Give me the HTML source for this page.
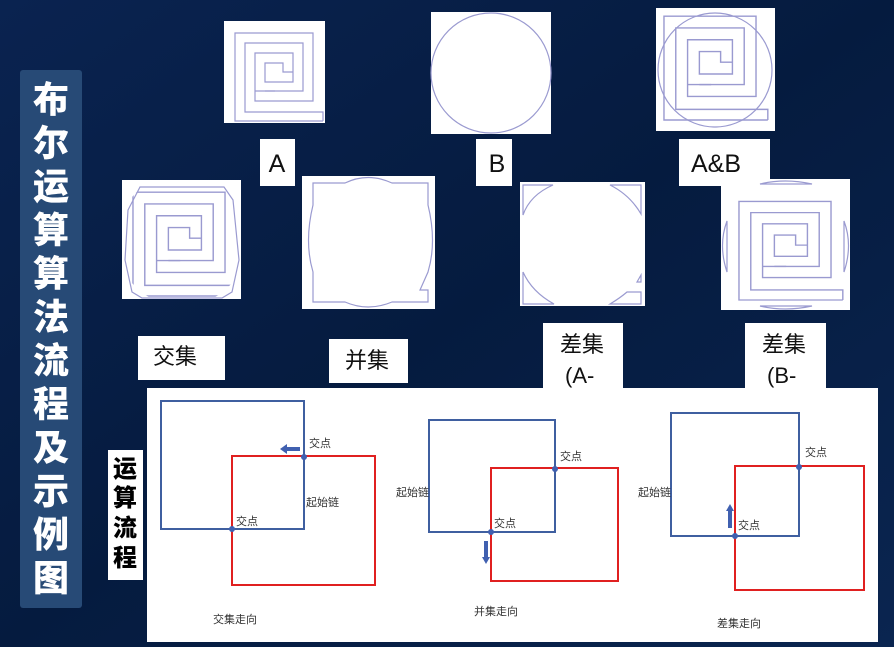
<!DOCTYPE html>
<html><head><meta charset="utf-8"><style>
html,body{margin:0;padding:0;width:894px;height:647px;overflow:hidden;background:#061c40;}
svg{display:block}
text{font-family:"Liberation Sans","Noto Sans CJK SC",sans-serif;}
</style></head><body>
<svg width="894" height="647" viewBox="0 0 894 647" xmlns="http://www.w3.org/2000/svg">
<defs>
<linearGradient id="bg" x1="0" y1="0" x2="1" y2="1">
<stop offset="0" stop-color="#0a2350"/><stop offset="0.5" stop-color="#051b3f"/><stop offset="1" stop-color="#0a2550"/>
</linearGradient>
<g id="sp" fill="none" stroke="#9a9ad0" stroke-width="1.2">
<polyline points="99,100 11,100 11,12 89,12 89,80 31,80 31,32 69,32 69,61 41,61 41,42 59,42 59,51 69,51"/>
<polyline points="99,100 99,91 21,91 21,22 79,22 79,70 31,70"/>
<polyline points="41,70 51,70"/>
</g>
<clipPath id="cc"><circle cx="60" cy="60" r="66"/></clipPath>
</defs>
<rect width="894" height="647" fill="url(#bg)"/>

<!-- title bar -->
<rect x="20" y="70" width="62" height="538" rx="3" fill="#274a76"/>
<g fill="#fff" font-weight="900" font-size="36" text-anchor="middle">
<text x="51" y="112">布</text><text x="51" y="155.5">尔</text><text x="51" y="199">运</text><text x="51" y="242.5">算</text><text x="51" y="286">算</text><text x="51" y="329.5">法</text><text x="51" y="373">流</text><text x="51" y="416.5">程</text><text x="51" y="460">及</text><text x="51" y="503.5">示</text><text x="51" y="547">例</text><text x="51" y="590.5">图</text>
</g>

<!-- A -->
<rect x="224" y="21" width="101" height="102" fill="#fff"/>
<use href="#sp" transform="translate(224,21)"/>
<!-- B -->
<rect x="431" y="12" width="120" height="122" fill="#fff"/>
<circle cx="491" cy="73" r="60" fill="none" stroke="#9a9ad0" stroke-width="1.2"/>
<!-- A&B -->
<rect x="656" y="8" width="119" height="123" fill="#fff"/>
<use href="#sp" transform="translate(651,2) scale(1.18,1.18)"/>
<circle cx="715" cy="70" r="57" fill="none" stroke="#9a9ad0" stroke-width="1.2"/>

<!-- labels row1 -->
<rect x="260" y="139" width="35" height="47" fill="#fff"/><text x="277" y="172" font-size="25" text-anchor="middle" fill="#111">A</text>
<rect x="476" y="139" width="36" height="47" fill="#fff"/><text x="497" y="172" font-size="25" text-anchor="middle" fill="#111">B</text>
<rect x="679" y="139" width="91" height="47" fill="#fff"/><text x="716" y="172" font-size="25" text-anchor="middle" fill="#111">A&amp;B</text>

<!-- 交集 image -->
<rect x="122" y="180" width="119" height="119" fill="#fff"/>
<g transform="translate(122,180)">
<g clip-path="url(#cc)"><use href="#sp" transform="translate(-2,-2) scale(1.18,1.18)"/></g>
<path d="M18 7 L102 7 L111 20 L117 80 L110 112 L100 118 L20 118 L10 112 L3 80 L6 30 Z" fill="none" stroke="#9a9ad0" stroke-width="1.2"/>
</g>
<!-- 并集 image -->
<rect x="302" y="176" width="133" height="133" fill="#fff"/>
<path d="M313 183 L345 183 Q368 172 392 183 L428 183 L428 205 Q437 242 428 272 L420 290 L428 290 L428 302 L392 302 Q368 312 345 302 L313 302 L313 272 Q304 242 313 205 Z" fill="none" stroke="#9a9ad0" stroke-width="1.2"/>
<!-- A-B image -->
<rect x="520" y="182" width="125" height="124" fill="#fff"/>
<g fill="none" stroke="#9a9ad0" stroke-width="1.2">
<path d="M523 185 L523 215 Q530 195 553 185 Z"/>
<path d="M610 185 L641 185 L641 214 Q630 195 610 185 Z"/>
<path d="M523 272 L523 304 L554 304 Q532 292 523 272 Z"/>
<path d="M610 304 L641 304 L641 292 L627 292 Q620 298 610 304 Z"/>
<path d="M637 282 L641 275 L641 282 Z"/>
</g>
<!-- B-A image -->
<rect x="721" y="179" width="129" height="131" fill="#fff"/>
<use href="#sp" transform="translate(726,188) scale(1.18,1.12)"/>
<g fill="none" stroke="#9a9ad0" stroke-width="1.2">
<path d="M760 184 Q785 178 812 184 Z"/><path d="M760 306 Q785 312 812 306 Z"/>
<path d="M727 221 Q718 245 727 272 Z"/><path d="M844 221 Q853 245 844 272 Z"/>
</g>

<!-- labels row2 -->
<g fill="#111" font-size="22">
<rect x="138" y="336" width="87" height="44" fill="#fff"/><text x="153" y="364">交集</text>
<rect x="329" y="339" width="79" height="44" fill="#fff"/><text x="345" y="368">并集</text>
<rect x="543" y="323" width="80" height="66" fill="#fff"/><text x="560" y="352">差集</text><text x="565" y="383">(A-</text>
<rect x="745" y="323" width="81" height="66" fill="#fff"/><text x="762" y="352">差集</text><text x="767" y="383">(B-</text>
</g>

<!-- 运算流程 -->
<rect x="108" y="450" width="35" height="130" fill="#fff"/>
<g font-weight="900" font-size="24" fill="#000" text-anchor="middle">
<text x="125" y="477">运</text><text x="125" y="506">算</text><text x="125" y="536">流</text><text x="125" y="566">程</text>
</g>

<!-- bottom panel -->
<rect x="147" y="388" width="731" height="254" fill="#fff"/>
<g fill="none" stroke-width="2">
<rect x="161" y="401" width="143" height="128" stroke="#3f5fa0"/>
<rect x="232" y="456" width="143" height="129" stroke="#e02020"/>
<rect x="429" y="420" width="126" height="112" stroke="#3f5fa0"/>
<rect x="491" y="468" width="127" height="113" stroke="#e02020"/>
<rect x="671" y="413" width="128" height="123" stroke="#3f5fa0"/>
<rect x="735" y="466" width="129" height="124" stroke="#e02020"/>
</g>
<g fill="#4060b0">
<circle cx="304" cy="457" r="3"/><circle cx="232" cy="529" r="3"/>
<circle cx="555" cy="469" r="3"/><circle cx="491" cy="532" r="3"/>
<circle cx="799" cy="467" r="3"/><circle cx="735" cy="536" r="3"/>
<rect x="286" y="447" width="14" height="4"/><path d="M280 449 L287 444 L287 454 Z"/>
<rect x="484" y="541" width="4" height="17"/><path d="M486 564 L482 557 L490 557 Z"/>
<rect x="728" y="511" width="4" height="17"/><path d="M730 504 L726 511 L734 511 Z"/>
</g>
<g font-size="11" fill="#333">
<text x="309" y="447">交点</text><text x="306" y="506">起始链</text><text x="236" y="525">交点</text><text x="213" y="623">交集走向</text>
<text x="396" y="496">起始链</text><text x="560" y="460">交点</text><text x="494" y="527">交点</text><text x="474" y="615">并集走向</text>
<text x="638" y="496">起始链</text><text x="805" y="456">交点</text><text x="738" y="529">交点</text><text x="717" y="627">差集走向</text>
</g>
</svg>
</body></html>
